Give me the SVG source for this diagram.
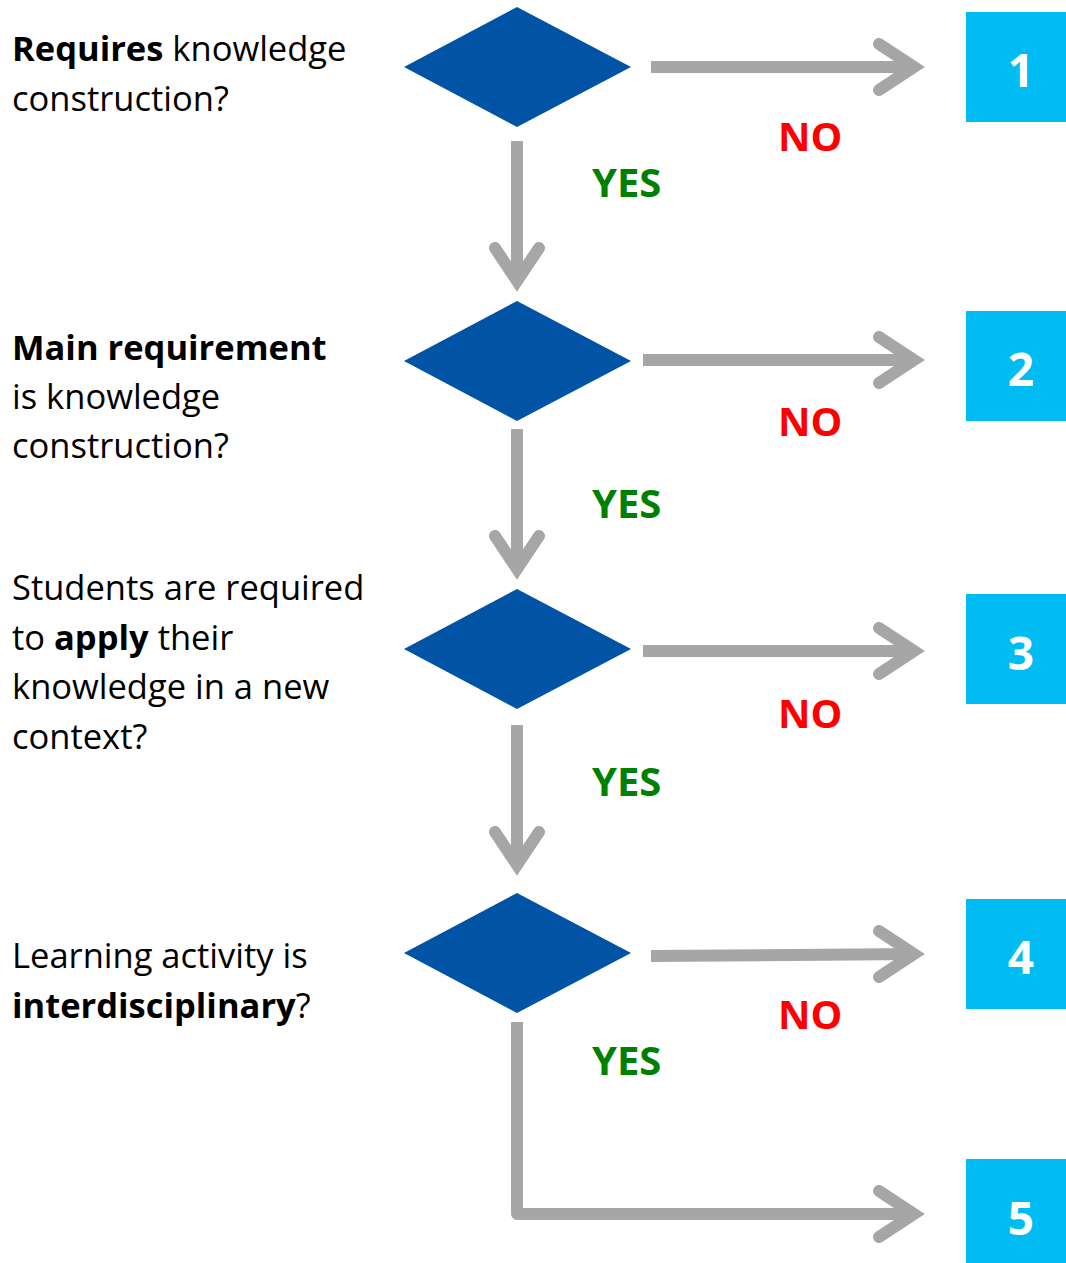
<svg xmlns="http://www.w3.org/2000/svg" width="1066" height="1263" viewBox="0 0 1066 1263">
<style>
.q{font-family:"Open Sans","Noto Sans",sans-serif;font-size:34.5px;fill:#000}
.b{font-weight:bold}
.dia{fill:#0053a5}
.box{fill:#00bcf2}
.num{font-family:"Open Sans","Noto Sans",sans-serif;font-size:46px;font-weight:bold;fill:#fff;text-anchor:middle}
.no{font-family:"Open Sans","Noto Sans",sans-serif;font-size:40px;font-weight:bold;fill:#ff0000}
.yes{font-family:"Open Sans","Noto Sans",sans-serif;font-size:40px;font-weight:bold;fill:#008000}
.ln{fill:none;stroke:#a6a6a6;stroke-width:12}
.hd{fill:none;stroke:#a6a6a6;stroke-width:12;stroke-linecap:round;stroke-linejoin:miter;stroke-miterlimit:4}
</style>
<g id="q1"><text class="q" x="12" y="61"><tspan class="b">Requires</tspan> knowledge</text><text class="q" x="12" y="111">construction?</text></g>
<g id="q2"><text class="q b" x="12" y="360">Main requirement</text><text class="q" x="12" y="409">is knowledge</text><text class="q" x="12" y="458">construction?</text></g>
<g id="q3"><text class="q" x="12" y="600">Students are required</text><text class="q" x="12" y="650">to <tspan class="b">apply</tspan> their</text><text class="q" x="12" y="699">knowledge in a new</text><text class="q" x="12" y="749">context?</text></g>
<g id="q4"><text class="q" x="12" y="968">Learning activity is</text><text class="q" x="12" y="1018"><tspan class="b">interdisciplinary</tspan>?</text></g>
<g id="d1"><polygon class="dia" points="404,67 517,7 631,67 517,127"/></g>
<g id="d2"><polygon class="dia" points="404,361 517,301 631,361 517,421"/></g>
<g id="d3"><polygon class="dia" points="404,649 517,589 631,649 517,709"/></g>
<g id="d4"><polygon class="dia" points="404,953 517,893 631,953 517,1013"/></g>
<g id="b1"><rect class="box" x="966" y="12" width="100" height="110"/><text class="num" x="1021" y="87">1</text></g>
<g id="b2"><rect class="box" x="966" y="311" width="100" height="110"/><text class="num" x="1021" y="386">2</text></g>
<g id="b3"><rect class="box" x="966" y="594" width="100" height="110"/><text class="num" x="1021" y="670">3</text></g>
<g id="b4"><rect class="box" x="966" y="899" width="100" height="110"/><text class="num" x="1021" y="974">4</text></g>
<g id="b5"><rect class="box" x="966" y="1159" width="100" height="104"/><text class="num" x="1021" y="1235">5</text></g>
<g id="connectors">
<path class="ln" d="M651,67 H916"/><path class="hd" d="M879,44 L914,67 L879,90"/>
<path class="ln" d="M643,360 H916"/><path class="hd" d="M879,337 L914,360 L879,383"/>
<path class="ln" d="M643,651 H916"/><path class="hd" d="M879,628 L914,651 L879,674"/>
<path class="ln" d="M651,956 L916,954"/><path class="hd" d="M879,931 L914,954 L879,977"/>
<path class="ln" d="M517,1022 V1214 H916" style="stroke-linejoin:round"/><path class="hd" d="M879,1191 L914,1214 L879,1237"/>
<path class="ln" d="M517,141 V282"/><path class="hd" d="M495,248 L517,281 L539,248"/>
<path class="ln" d="M517,429 V570"/><path class="hd" d="M495,536 L517,569 L539,536"/>
<path class="ln" d="M517,725 V866"/><path class="hd" d="M495,832 L517,865 L539,832"/>
<text class="no" x="778" y="151">NO</text><text class="yes" x="592" y="197">YES</text>
<text class="no" x="778" y="436">NO</text><text class="yes" x="592" y="518">YES</text>
<text class="no" x="778" y="728">NO</text><text class="yes" x="592" y="796">YES</text>
<text class="no" x="778" y="1029">NO</text><text class="yes" x="592" y="1075">YES</text>
</g>
</svg>
